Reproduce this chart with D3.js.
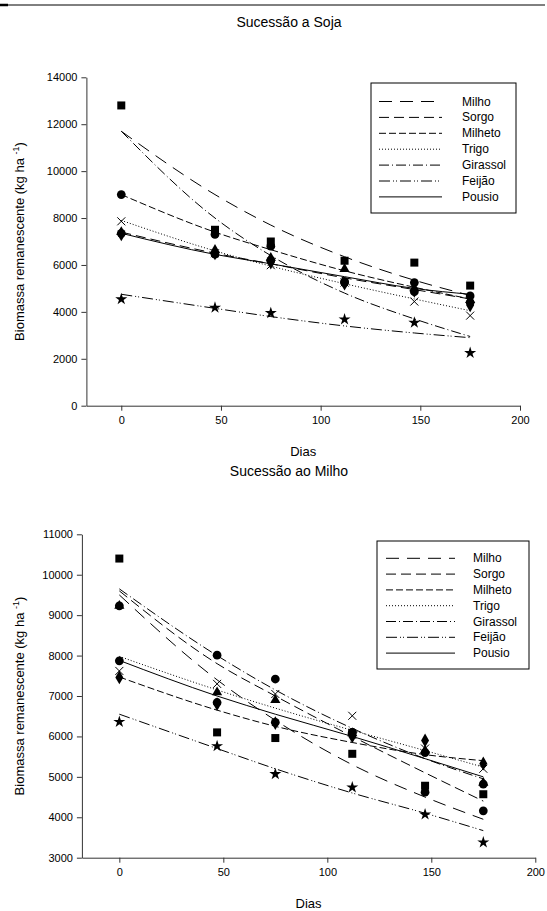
<!DOCTYPE html>
<html>
<head>
<meta charset="utf-8">
<script src="https://cdn.jsdelivr.net/npm/d3@7"></script>
<style>
  body { margin: 0; background: #fff; }
  svg { font-family: "Liberation Sans", Arial, sans-serif; }
</style>
</head>
<body>
<svg id="chart" width="547" height="911"></svg>
<script>
// days sampled
var dias = [0, 47, 75, 112, 147, 175];
var serieNomes = ["Milho", "Sorgo", "Milheto", "Trigo", "Girassol", "Feijão", "Pousio"];

// Sucessão a Soja: observed points and fitted curve values
var sojaPontos = {
  "Milho":    [12800, 7500, 7000, 6180, 6100, 5120],
  "Sorgo":    [7400, 6640, 6300, 5830, 5000, 4500],
  "Milheto":  [9000, 7300, 6800, 5290, 5250, 4680],
  "Trigo":    [7860, 6500, 5990, 5250, 4440, 3840],
  "Girassol": [7350, 6460, 6200, 5250, 4860, 4400],
  "Feijão":   [4540, 4180, 3950, 3680, 3540, 2250],
  "Pousio":   [7300, 6500, 6100, 5200, 4900, 4280]
};
var sojaAjuste = {
  "Milho":    [11700, 9000, 7700, 6350, 5350, 4700],
  "Sorgo":    [7400, 6500, 6050, 5450, 4950, 4550],
  "Milheto":  [9000, 7400, 6650, 5750, 5050, 4550],
  "Trigo":    [7900, 6600, 5950, 5200, 4550, 4050],
  "Girassol": [11700, 8000, 6400, 4800, 3700, 2950],
  "Feijão":   [4750, 4150, 3800, 3400, 3100, 2900],
  "Pousio":   [7350, 6450, 6050, 5500, 5000, 4750]
};

// Sucessão ao Milho
var milhoPontos = {
  "Milho":    [10400, 6100, 5960, 5570, 4780, 4570],
  "Sorgo":    [9230, 8010, 7420, 6100, 4620, 4160],
  "Milheto":  [7460, 6800, 6330, 6000, 5900, 5330],
  "Trigo":    [7620, 7300, 7050, 6510, 5700, 5200],
  "Girassol": [9230, 7090, 6900, 6080, 5650, 4850],
  "Feijão":   [6360, 5760, 5070, 4740, 4070, 3380],
  "Pousio":   [7870, 6840, 6350, 6100, 5600, 4820]
};
var milhoAjuste = {
  "Milho":    [9500, 7400, 6400, 5300, 4500, 3950],
  "Sorgo":    [9600, 7800, 7000, 6000, 5100, 4400],
  "Milheto":  [7470, 6650, 6250, 5850, 5550, 5400],
  "Trigo":    [7980, 7150, 6700, 6150, 5650, 5240],
  "Girassol": [9650, 8000, 7150, 6200, 5450, 4950],
  "Feijão":   [6550, 5700, 5200, 4600, 4100, 3670],
  "Pousio":   [7880, 7000, 6550, 6000, 5450, 5000]
};

var sojaTicksY = [0, 2000, 4000, 6000, 8000, 10000, 12000, 14000];
var milhoTicksY = [3000, 4000, 5000, 6000, 7000, 8000, 9000, 10000, 11000];
var ticksX = [0, 50, 100, 150, 200];

var tracos = {
  "Milho": "13,8",
  "Sorgo": "10,5",
  "Milheto": "7,3",
  "Trigo": "1,2",
  "Girassol": "10,3,1,3",
  "Feijão": "11,3,1,2,1,3",
  "Pousio": null
};
var simbolos = {
  "Milho": d3.symbolSquare,
  "Sorgo": d3.symbolTriangle,
  "Milheto": d3.symbolCircle,
  "Trigo": "x",
  "Girassol": d3.symbolCircle,
  "Feijão": d3.symbolStar,
  "Pousio": d3.symbolDiamond
};
var simbolosMilho = {
  "Milho": d3.symbolSquare,
  "Sorgo": d3.symbolCircle,
  "Milheto": d3.symbolDiamond,
  "Trigo": "x",
  "Girassol": d3.symbolTriangle,
  "Feijão": d3.symbolStar,
  "Pousio": d3.symbolCircle
};

var svg = d3.select("#chart");

// top rule
svg.append("line").attr("x1", 0).attr("x2", 8).attr("y1", 5).attr("y2", 5)
  .attr("stroke", "#000").attr("stroke-width", 2.5);
svg.append("line").attr("x1", 8).attr("x2", 545).attr("y1", 5).attr("y2", 5)
  .attr("stroke", "#000").attr("stroke-width", 1);

function drawPanel(cfg) {
  var x = d3.scaleLinear().domain(cfg.xDomain).range(cfg.xRange);
  var y = d3.scaleLinear().domain(cfg.yDomain).range(cfg.yRange);
  var g = svg.append("g");

  g.append("text")
    .attr("x", 289).attr("y", cfg.titleY)
    .attr("text-anchor", "middle")
    .style("font-size", "14px")
    .text(cfg.title);

  var ax = g.append("g")
    .attr("transform", "translate(0," + cfg.yRange[0] + ")")
    .call(d3.axisBottom(x).tickValues(ticksX).tickSize(5).tickPadding(6).tickSizeOuter(0));
  var ay = g.append("g")
    .attr("transform", "translate(" + cfg.xRange[0] + ",0)")
    .call(d3.axisLeft(y).tickValues(cfg.yTicks).tickSize(5).tickPadding(4).tickSizeOuter(0)
      .tickFormat(d3.format("d")));
  [ax, ay].forEach(function(a) {
    a.selectAll("text").style("font-size", "11px").attr("fill", "#000")
      .style("font-family", "'Liberation Sans', Arial, sans-serif");
    a.selectAll("line").attr("stroke", "#333");
    a.select(".domain").attr("stroke", "#333");
  });

  g.append("text")
    .attr("x", (cfg.xRange[0] + cfg.xRange[1]) / 2).attr("y", cfg.yRange[0] + 50)
    .attr("text-anchor", "middle")
    .style("font-size", "13px")
    .text("Dias");

  var yl = g.append("text")
    .attr("transform", "translate(" + 24 + "," + ((cfg.yRange[0] + cfg.yRange[1]) / 2) + ") rotate(-90)")
    .attr("text-anchor", "middle")
    .style("font-size", "13px");
  yl.append("tspan").text("Biomassa remanescente (kg ha ");
  yl.append("tspan").attr("dy", -5).style("font-size", "9px").text("-1");
  yl.append("tspan").attr("dy", 5).text(")");

  var line = d3.line()
    .x(function(d) { return x(d[0]); })
    .y(function(d) { return y(d[1]); })
    .curve(d3.curveMonotoneX);

  serieNomes.forEach(function(nome) {
    var dados = dias.map(function(d, i) { return [d, cfg.ajuste[nome][i]]; });
    g.append("path")
      .datum(dados)
      .attr("d", line)
      .attr("fill", "none")
      .attr("stroke", "#000")
      .attr("stroke-width", 1)
      .attr("stroke-dasharray", tracos[nome]);
  });

  serieNomes.forEach(function(nome) {
    var sym = cfg.simbolos[nome];
    dias.forEach(function(d, i) {
      var px = x(d), py = y(cfg.pontos[nome][i]);
      if (sym === "x") {
        g.append("path")
          .attr("d", "M-4,-4L4,4M-4,4L4,-4")
          .attr("transform", "translate(" + px + "," + py + ")")
          .attr("stroke", "#000").attr("stroke-width", 1).attr("fill", "none");
      } else {
        var size = 64;
        if (sym === d3.symbolStar) size = 45;
        if (sym === d3.symbolDiamond) size = 55;
        if (sym === d3.symbolCircle) size = 60;
        if (sym === d3.symbolTriangle) size = 45;
        g.append("path")
          .attr("d", d3.symbol().type(sym).size(size)())
          .attr("transform", "translate(" + px + "," + py + ")")
          .attr("fill", "#000");
      }
    });
  });

  // legend
  var L = cfg.legend;
  g.append("rect")
    .attr("x", L.x0).attr("y", L.y0)
    .attr("width", L.x1 - L.x0).attr("height", L.y1 - L.y0)
    .attr("fill", "#fff").attr("stroke", "#000").attr("stroke-width", 1);
  serieNomes.forEach(function(nome, i) {
    var ly = L.first + i * L.step;
    g.append("line")
      .attr("x1", L.lx0).attr("x2", L.lx1).attr("y1", ly).attr("y2", ly)
      .attr("stroke", "#000").attr("stroke-width", 1)
      .attr("stroke-dasharray", tracos[nome]);
    g.append("text")
      .attr("x", L.tx).attr("y", ly + 4)
      .style("font-size", "12px")
      .text(nome);
  });
}

drawPanel({
  title: "Sucessão a Soja",
  titleY: 27,
  xDomain: [-17.5, 200], xRange: [86.4, 520],
  yDomain: [0, 14000], yRange: [405.7, 77.3],
  yTicks: sojaTicksY,
  pontos: sojaPontos, ajuste: sojaAjuste, simbolos: simbolos,
  legend: { x0: 371, x1: 516, y0: 83, y1: 213, first: 101.5, step: 15.9, lx0: 379, lx1: 442, tx: 462 }
});

drawPanel({
  title: "Sucessão ao Milho",
  titleY: 476,
  xDomain: [-18, 200], xRange: [81.9, 535.3],
  yDomain: [3000, 11000], yRange: [857.7, 534.3],
  yTicks: milhoTicksY,
  pontos: milhoPontos, ajuste: milhoAjuste, simbolos: simbolosMilho,
  legend: { x0: 377, x1: 529, y0: 541, y1: 669, first: 558.3, step: 15.8, lx0: 386, lx1: 455, tx: 473 }
});
</script>
</body>
</html>
